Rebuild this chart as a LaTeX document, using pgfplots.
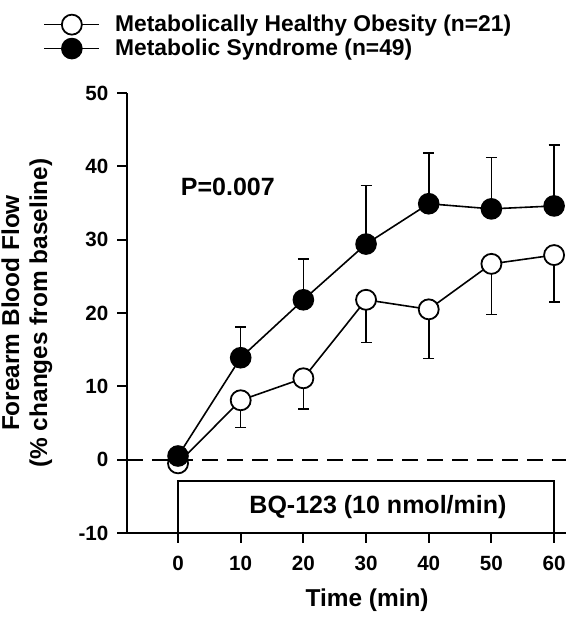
\documentclass[border=0pt]{standalone}
\usepackage{pgfplots}
\pgfplotsset{compat=1.18}
\usepackage{pgfplotstable}
\usepackage{fontspec}
\setmainfont{Liberation Sans}

\pgfplotstableread{
x y ey
0 -0.5 0
10 8.1 3.7
20 11.1 4.2
30 21.8 5.8
40 20.5 6.7
50 26.7 6.9
60 27.9 6.4
}\mho
\pgfplotstableread{
x y ey
0 0.5 0
10 13.9 4.2
20 21.8 5.6
30 29.4 8.0
40 34.9 6.9
50 34.2 7.0
60 34.6 8.3
}\mets

\begin{document}
\begin{tikzpicture}
\begin{axis}[
  name=ax,
  scale only axis,
  width=219.5pt, height=220pt,
  xmin=-8.14, xmax=61.9, ymin=-10, ymax=50,
  axis x line=bottom, axis y line=left,
  axis line style={line width=1pt, -},
  xtick={0,10,...,60}, ytick={-10,0,...,50},
  tick align=outside,
  major tick length=4.8pt,
  tick style={line width=1pt, black},
  ticklabel style={font=\fontsize{10.3}{12}\selectfont\bfseries},
  /pgf/number format/assume math mode=true,
  xticklabel style={yshift=-3pt},
  yticklabel style={xshift=-1pt},
  xlabel={Time (min)},
  xlabel style={at={(axis description cs:0.547,-0.152)}, anchor=center, font=\fontsize{12.2}{14}\selectfont\bfseries},
  ylabel={Forearm Blood Flow\\(\% changes from baseline)},
  ylabel style={at={(axis description cs:-0.228,0.5)}, anchor=center, align=center, font=\fontsize{12.2}{14}\selectfont\bfseries},
  clip=false,
  legend style={at={(axis description cs:-0.191,1.183)}, anchor=north west, draw=none, fill=none,
    font=\fontsize{11.4}{13}\selectfont\bfseries, inner sep=0pt, row sep=0.2pt,
    nodes={inner sep=1pt}, column sep=6.5pt},
  legend cell align=left,
  legend image code/.code={\draw[mark repeat=2,mark phase=2,#1] plot coordinates {(0pt,0pt) (13.75pt,0pt) (27.5pt,0pt)};},
]
\draw[line width=0.9pt, dash pattern=on 8pt off 4.5pt] (axis cs:-8.14,0) -- (axis cs:61.9,0);
\draw[line width=0.7pt] (axis cs:0,-10) rectangle (axis cs:60,-2.9);
\node[font=\fontsize{12.5}{14}\selectfont\bfseries] at (axis cs:31.9,-6.5) {BQ-123 (10 nmol/min)};
\node[font=\fontsize{12.5}{14}\selectfont\bfseries, anchor=west, inner sep=0pt] at (axis cs:0.4,37.2) {P=0.007};

\addplot[black, line width=0.8pt, mark=*, mark size=5pt,
  mark options={fill=white, draw=black, line width=0.9pt},
  error bars/.cd, y dir=minus, y explicit,
  error bar style={line width=0.8pt, black},
  error mark options={rotate=90, line width=0.8pt, mark size=2.75pt, black}]
  table[x=x, y=y, y error=ey] {\mho};
\addlegendentry{Metabolically Healthy Obesity (n=21)}

\addplot[black, line width=0.8pt, mark=*, mark size=5pt,
  mark options={fill=black, draw=black, line width=0.8pt},
  error bars/.cd, y dir=plus, y explicit,
  error bar style={line width=0.8pt, black},
  error mark options={rotate=90, line width=0.8pt, mark size=2.75pt, black}]
  table[x=x, y=y, y error=ey] {\mets};
\addlegendentry{Metabolic Syndrome (n=49)}
\end{axis}
\pgfresetboundingbox
\path (ax.south west) ++(-63.5pt,-43.5pt) rectangle ++(283.5pt,310pt);
\end{tikzpicture}
\end{document}
